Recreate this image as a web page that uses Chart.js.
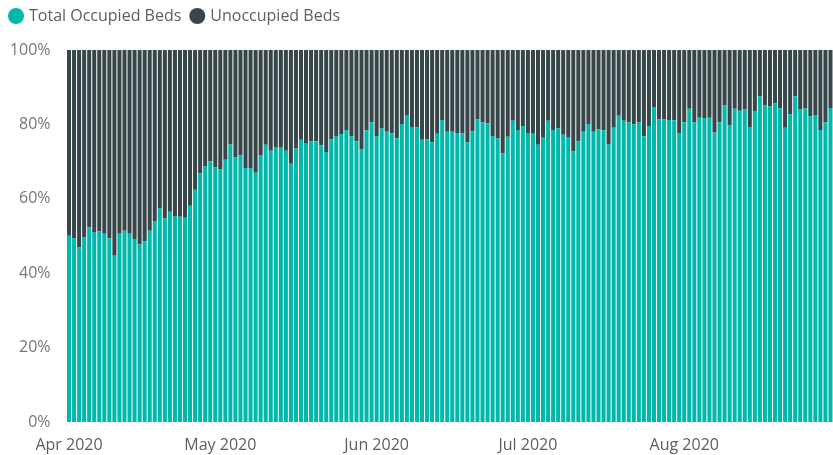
<!DOCTYPE html>
<html lang="en">
<head>
  <meta charset="UTF-8" />
  <title>Bed Occupancy</title>
  <script src="https://cdn.jsdelivr.net/npm/chart.js"></script>
  <style>
    html, body {
      margin: 0;
      padding: 0;
      background: #ffffff;
    }
    #wrap {
      width: 833px;
      height: 455px;
      position: relative;
    }
  </style>
</head>
<body>
  <div id="wrap">
    <canvas id="bedsChart" width="833" height="455"></canvas>
  </div>

  <script>
    // daily share of beds, Apr 1 - Aug 30 2020
    const occupied = [
      50.1, 49.3, 46.9, 49.7, 52.3, 51.1, 51.3, 50.6, 49.3, 44.7,
      50.6, 51.4, 50.6, 49.2, 47.7, 48.6, 51.4, 54.0, 57.4, 54.7,
      56.5, 55.4, 55.2, 54.9, 58.1, 62.4, 66.8, 68.7, 70.0, 68.4,
      67.9, 70.5, 74.6, 71.1, 71.7, 68.3, 68.3, 67.0, 71.8, 74.5,
      72.9, 73.9, 73.7, 72.9, 69.4, 73.5, 75.9, 75.0, 75.5, 75.5,
      74.4, 72.6, 76.0, 76.9, 77.4, 78.5, 76.8, 75.5, 73.4, 78.4,
      80.6, 76.9, 78.9, 78.0, 77.6, 76.3, 80.1, 82.3, 79.3, 79.2,
      75.9, 76.0, 75.2, 77.5, 81.2, 78.0, 78.0, 77.7, 77.6, 75.2,
      78.1, 81.4, 80.6, 80.3, 76.9, 76.2, 72.2, 76.7, 81.0, 78.5,
      79.6, 77.7, 77.7, 74.5, 76.4, 81.0, 78.5, 78.9, 77.2, 76.4,
      72.7, 75.5, 78.0, 80.1, 78.0, 78.6, 78.4, 74.7, 79.1, 82.3,
      81.0, 80.6, 80.0, 80.6, 76.8, 79.6, 84.7, 81.3, 81.3, 81.2,
      81.1, 77.7, 80.6, 84.2, 80.6, 81.8, 81.7, 81.8, 77.8, 80.6,
      85.1, 79.7, 84.2, 83.7, 84.0, 79.3, 83.6, 87.6, 85.1, 84.8,
      85.6, 84.3, 79.1, 82.7, 87.6, 84.0, 84.3, 82.2, 82.5, 78.5,
      80.6, 84.4
    ];

    const unoccupied = [
      49.9, 50.7, 53.1, 50.3, 47.7, 48.9, 48.7, 49.4, 50.7, 55.3,
      49.4, 48.6, 49.4, 50.8, 52.3, 51.4, 48.6, 46.0, 42.6, 45.3,
      43.5, 44.6, 44.8, 45.1, 41.9, 37.6, 33.2, 31.3, 30.0, 31.6,
      32.1, 29.5, 25.4, 28.9, 28.3, 31.7, 31.7, 33.0, 28.2, 25.5,
      27.1, 26.1, 26.3, 27.1, 30.6, 26.5, 24.1, 25.0, 24.5, 24.5,
      25.6, 27.4, 24.0, 23.1, 22.6, 21.5, 23.2, 24.5, 26.6, 21.6,
      19.4, 23.1, 21.1, 22.0, 22.4, 23.7, 19.9, 17.7, 20.7, 20.8,
      24.1, 24.0, 24.8, 22.5, 18.8, 22.0, 22.0, 22.3, 22.4, 24.8,
      21.9, 18.6, 19.4, 19.7, 23.1, 23.8, 27.8, 23.3, 19.0, 21.5,
      20.4, 22.3, 22.3, 25.5, 23.6, 19.0, 21.5, 21.1, 22.8, 23.6,
      27.3, 24.5, 22.0, 19.9, 22.0, 21.4, 21.6, 25.3, 20.9, 17.7,
      19.0, 19.4, 20.0, 19.4, 23.2, 20.4, 15.3, 18.7, 18.7, 18.8,
      18.9, 22.3, 19.4, 15.8, 19.4, 18.2, 18.3, 18.2, 22.2, 19.4,
      14.9, 20.3, 15.8, 16.3, 16.0, 20.7, 16.4, 12.4, 14.9, 15.2,
      14.4, 15.7, 20.9, 17.3, 12.4, 16.0, 15.7, 17.8, 17.5, 21.5,
      19.4, 15.6
    ];

    const monthLabels = ['Apr 2020', 'May 2020', 'Jun 2020', 'Jul 2020', 'Aug 2020'];
    const yTicks = [0, 20, 40, 60, 80, 100];

    // one category per day starting Apr 1 2020
    const days = [];
    for (let i = 0; i < occupied.length; i++) {
      const d = new Date(Date.UTC(2020, 3, 1 + i));
      days.push(d.toISOString().slice(0, 10));
    }

    const font = { family: "'Open Sans', 'Noto Sans', sans-serif", size: 16 };

    // legend box is taller than chart.js wants, so the plot starts lower
    const legendGap = {
      id: 'legendGap',
      beforeLayout(chart) {
        const lg = chart.legend;
        if (!lg || lg._gapPatched) return;
        const fit = lg.fit;
        lg.fit = function () {
          fit.call(this);
          this.height = 53;
        };
        lg._gapPatched = true;
      }
    };

    new Chart(document.getElementById('bedsChart'), {
      type: 'bar',
      data: {
        labels: days,
        datasets: [
          {
            label: 'Total Occupied Beds',
            data: occupied,
            backgroundColor: '#01B8AA',
            borderWidth: 0,
            barPercentage: 0.8,
            categoryPercentage: 1.0
          },
          {
            label: 'Unoccupied Beds',
            data: unoccupied,
            backgroundColor: '#374649',
            borderWidth: 0,
            barPercentage: 0.8,
            categoryPercentage: 1.0
          }
        ]
      },
      options: {
        responsive: false,
        animation: false,
        layout: { padding: { left: 0, right: 0, top: -3, bottom: 0 } },
        plugins: {
          legend: {
            position: 'top',
            align: 'start',
            labels: {
              usePointStyle: true,
              pointStyle: 'circle',
              boxWidth: 10,
              boxHeight: 11.3,
              padding: 11,
              color: '#605E5C',
              font: font
            }
          },
          tooltip: { enabled: false }
        },
        scales: {
          x: {
            stacked: true,
            grid: { display: false },
            border: { display: false },
            afterFit: function (scale) { scale.height = 33; },
            ticks: {
              autoSkip: false,
              maxRotation: 0,
              minRotation: 0,
              color: '#605E5C',
              font: font,
              padding: 6,
              callback: function (val, idx) {
                const s = days[idx];
                if (s.slice(8) !== '01') return null;
                return monthLabels[parseInt(s.slice(5, 7), 10) - 4];
              }
            }
          },
          y: {
            stacked: true,
            min: 0,
            max: 100,
            grid: { display: false },
            border: { display: false },
            afterFit: function (scale) { scale.width = 66.5; },
            afterBuildTicks: function (scale) {
              scale.ticks = yTicks.map(v => ({ value: v }));
            },
            ticks: {
              color: '#777777',
              font: font,
              padding: 8,
              callback: v => v + '%'
            }
          }
        }
      },
      plugins: [legendGap]
    });
  </script>
</body>
</html>
